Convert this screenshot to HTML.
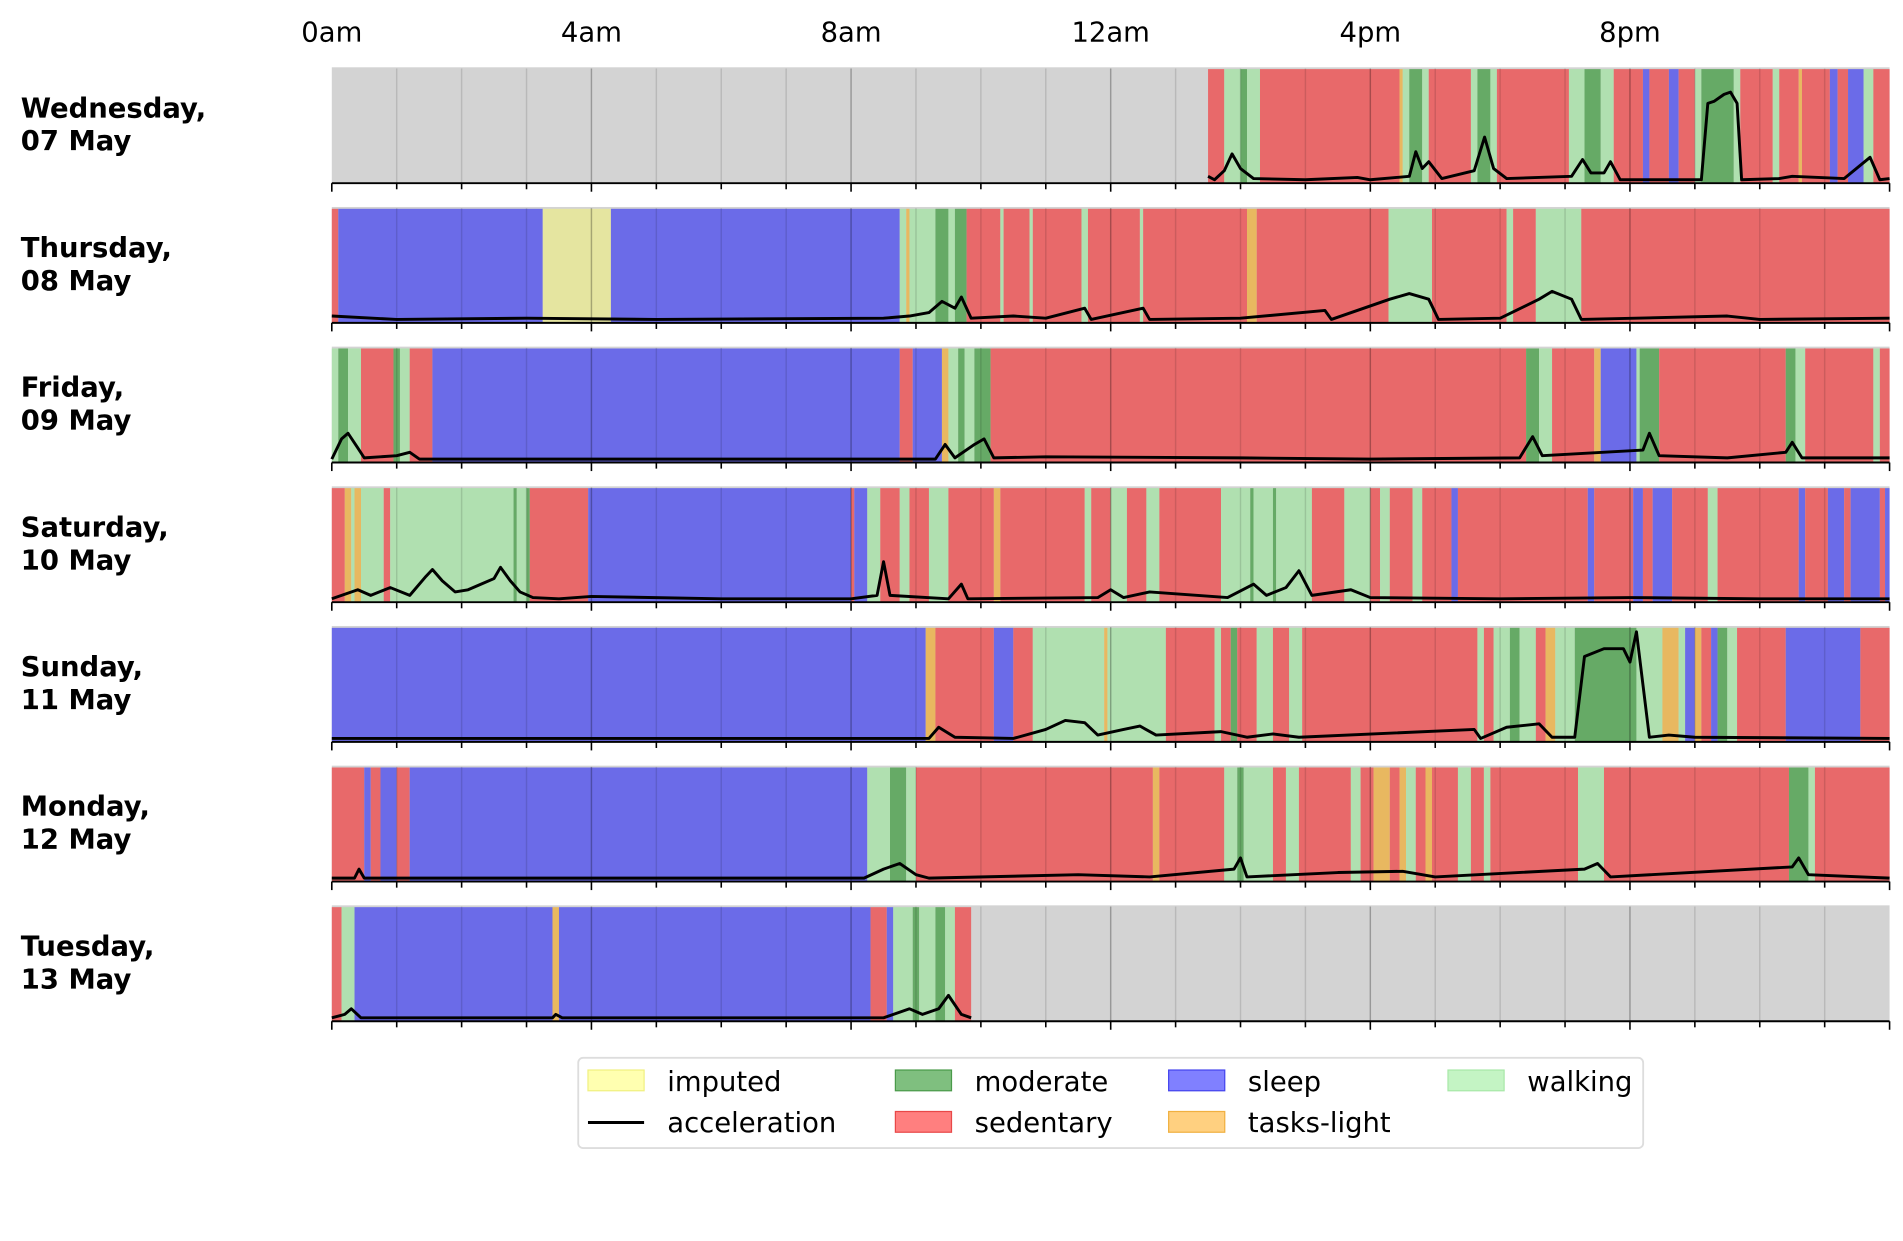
<!DOCTYPE html>
<html><head><meta charset="utf-8"><style>
html,body{margin:0;padding:0;background:#fff;}
svg{display:block;font-family:"DejaVu Sans","Liberation Sans",sans-serif;}
</style></head><body>
<svg id="chart" width="1903" height="1241" viewBox="0 0 1560 1017" xmlns="http://www.w3.org/2000/svg"></svg>
<script>
const dayLabels = [["Wednesday,","07 May"],["Thursday,","08 May"],["Friday,","09 May"],["Saturday,","10 May"],["Sunday,","11 May"],["Monday,","12 May"],["Tuesday,","13 May"]];
const tickLabels = ["0am","4am","8am","12am","4pm","8pm"];
const categories = ["imputed","moderate","sleep","walking","sedentary","tasks-light"];
const segWed = [[13.5,13.75,"S"],[13.75,14.0,"W"],[14.0,14.1,"M"],[14.1,14.3,"W"],[14.3,16.45,"S"],[16.45,16.5,"T"],[16.5,16.6,"W"],[16.6,16.8,"M"],[16.8,16.9,"W"],[16.9,17.55,"S"],[17.55,17.65,"W"],[17.65,17.85,"M"],[17.85,17.95,"W"],[17.95,19.06,"S"],[19.06,19.3,"W"],[19.3,19.55,"M"],[19.55,19.75,"W"],[19.75,20.2,"S"],[20.2,20.3,"Z"],[20.3,20.6,"S"],[20.6,20.75,"Z"],[20.75,21.0,"S"],[21.0,21.1,"W"],[21.1,21.6,"M"],[21.6,21.7,"W"],[21.7,22.2,"S"],[22.2,22.3,"W"],[22.3,22.6,"S"],[22.6,22.65,"T"],[22.65,23.08,"S"],[23.08,23.2,"Z"],[23.2,23.36,"S"],[23.36,23.6,"Z"],[23.6,23.75,"W"],[23.75,24,"S"]];
const segThu = [[0,0.1,"S"],[0.1,3.25,"Z"],[3.25,4.3,"I"],[4.3,8.75,"Z"],[8.75,8.85,"W"],[8.85,8.9,"T"],[8.9,9.3,"W"],[9.3,9.5,"M"],[9.5,9.6,"W"],[9.6,9.78,"M"],[9.78,10.3,"S"],[10.3,10.35,"W"],[10.35,10.75,"S"],[10.75,10.8,"W"],[10.8,11.55,"S"],[11.55,11.65,"W"],[11.65,12.45,"S"],[12.45,12.5,"W"],[12.5,14.1,"S"],[14.1,14.25,"T"],[14.25,16.28,"S"],[16.28,16.95,"W"],[16.95,18.1,"S"],[18.1,18.2,"W"],[18.2,18.55,"S"],[18.55,19.25,"W"],[19.25,24,"S"]];
const segFri = [[0,0.1,"W"],[0.1,0.25,"M"],[0.25,0.45,"W"],[0.45,0.95,"S"],[0.95,1.05,"M"],[1.05,1.2,"W"],[1.2,1.55,"S"],[1.55,8.75,"Z"],[8.75,8.95,"S"],[8.95,9.4,"Z"],[9.4,9.5,"T"],[9.5,9.65,"W"],[9.65,9.75,"M"],[9.75,9.9,"W"],[9.9,10.15,"M"],[10.15,18.4,"S"],[18.4,18.6,"M"],[18.6,18.8,"W"],[18.8,19.45,"S"],[19.45,19.55,"T"],[19.55,20.1,"Z"],[20.1,20.15,"W"],[20.15,20.45,"M"],[20.45,22.4,"S"],[22.4,22.55,"M"],[22.55,22.7,"W"],[22.7,23.75,"S"],[23.75,23.85,"W"],[23.85,24,"S"]];
const segSat = [[0,0.2,"S"],[0.2,0.3,"T"],[0.3,0.35,"W"],[0.35,0.45,"T"],[0.45,0.8,"W"],[0.8,0.9,"S"],[0.9,2.8,"W"],[2.8,2.85,"M"],[2.85,3.0,"W"],[3.0,3.05,"M"],[3.05,3.95,"S"],[3.95,8.0,"Z"],[8.0,8.05,"S"],[8.05,8.25,"Z"],[8.25,8.45,"W"],[8.45,8.75,"S"],[8.75,8.9,"W"],[8.9,9.2,"S"],[9.2,9.5,"W"],[9.5,10.2,"S"],[10.2,10.3,"T"],[10.3,11.6,"S"],[11.6,11.7,"W"],[11.7,12.0,"S"],[12.0,12.25,"W"],[12.25,12.55,"S"],[12.55,12.75,"W"],[12.75,13.7,"S"],[13.7,14.15,"W"],[14.15,14.2,"M"],[14.2,14.5,"W"],[14.5,14.55,"M"],[14.55,15.1,"W"],[15.1,15.6,"S"],[15.6,16.0,"W"],[16.0,16.15,"S"],[16.15,16.3,"W"],[16.3,16.65,"S"],[16.65,16.8,"W"],[16.8,17.25,"S"],[17.25,17.35,"Z"],[17.35,19.35,"S"],[19.35,19.45,"Z"],[19.45,20.05,"S"],[20.05,20.2,"Z"],[20.2,20.35,"S"],[20.35,20.65,"Z"],[20.65,21.2,"S"],[21.2,21.35,"W"],[21.35,22.6,"S"],[22.6,22.7,"Z"],[22.7,23.05,"S"],[23.05,23.3,"Z"],[23.3,23.4,"S"],[23.4,23.85,"Z"],[23.85,23.93,"S"],[23.93,24,"Z"]];
const segSun = [[0,9.15,"Z"],[9.15,9.3,"T"],[9.3,10.2,"S"],[10.2,10.5,"Z"],[10.5,10.8,"S"],[10.8,11.9,"W"],[11.9,11.95,"T"],[11.95,12.85,"W"],[12.85,13.6,"S"],[13.6,13.7,"W"],[13.7,13.85,"S"],[13.85,13.95,"M"],[13.95,14.25,"S"],[14.25,14.5,"W"],[14.5,14.75,"S"],[14.75,14.95,"W"],[14.95,17.65,"S"],[17.65,17.75,"W"],[17.75,17.9,"S"],[17.9,18.15,"W"],[18.15,18.3,"M"],[18.3,18.55,"W"],[18.55,18.7,"S"],[18.7,18.85,"T"],[18.85,19.15,"W"],[19.15,20.1,"M"],[20.1,20.5,"W"],[20.5,20.75,"T"],[20.75,20.85,"W"],[20.85,21.0,"Z"],[21.0,21.1,"T"],[21.1,21.25,"S"],[21.25,21.35,"Z"],[21.35,21.5,"M"],[21.5,21.65,"W"],[21.65,22.4,"S"],[22.4,23.55,"Z"],[23.55,24,"S"]];
const segMon = [[0,0.5,"S"],[0.5,0.6,"Z"],[0.6,0.75,"S"],[0.75,1.0,"Z"],[1.0,1.2,"S"],[1.2,8.25,"Z"],[8.25,8.6,"W"],[8.6,8.85,"M"],[8.85,9.0,"W"],[9.0,12.65,"S"],[12.65,12.75,"T"],[12.75,13.75,"S"],[13.75,13.95,"W"],[13.95,14.05,"M"],[14.05,14.5,"W"],[14.5,14.7,"S"],[14.7,14.9,"W"],[14.9,15.7,"S"],[15.7,15.85,"W"],[15.85,16.05,"S"],[16.05,16.3,"T"],[16.3,16.45,"S"],[16.45,16.55,"T"],[16.55,16.7,"W"],[16.7,16.85,"S"],[16.85,16.95,"T"],[16.95,17.35,"S"],[17.35,17.55,"W"],[17.55,17.75,"S"],[17.75,17.85,"W"],[17.85,19.2,"S"],[19.2,19.6,"W"],[19.6,22.45,"S"],[22.45,22.75,"M"],[22.75,22.85,"W"],[22.85,24,"S"]];
const segTue = [[0,0.15,"S"],[0.15,0.35,"W"],[0.35,3.4,"Z"],[3.4,3.5,"T"],[3.5,8.3,"Z"],[8.3,8.55,"S"],[8.55,8.65,"Z"],[8.65,8.95,"W"],[8.95,9.05,"M"],[9.05,9.3,"W"],[9.3,9.45,"M"],[9.45,9.6,"W"],[9.6,9.85,"S"]];
const accWed = [[13.5,0.05],[13.6,0.02],[13.75,0.1],[13.87,0.25],[14.0,0.12],[14.2,0.03],[15.0,0.02],[15.8,0.04],[16.0,0.02],[16.6,0.05],[16.7,0.27],[16.8,0.12],[16.9,0.18],[17.1,0.03],[17.6,0.1],[17.76,0.4],[17.9,0.12],[18.1,0.03],[19.1,0.05],[19.27,0.2],[19.4,0.08],[19.6,0.08],[19.7,0.18],[19.85,0.02],[21.1,0.02],[21.2,0.7],[21.3,0.72],[21.45,0.78],[21.55,0.8],[21.65,0.7],[21.72,0.02],[22.3,0.03],[22.5,0.05],[23.3,0.03],[23.7,0.22],[23.85,0.02],[24,0.03]];
const accThu = [[0,0.05],[1,0.02],[3,0.03],[5,0.02],[8.5,0.03],[8.9,0.05],[9.2,0.08],[9.4,0.18],[9.6,0.12],[9.7,0.22],[9.85,0.03],[10.5,0.05],[11.0,0.03],[11.6,0.12],[11.7,0.02],[12.5,0.12],[12.6,0.02],[14.0,0.03],[15.3,0.1],[15.4,0.02],[16.3,0.2],[16.6,0.25],[16.9,0.2],[17.05,0.02],[18.0,0.03],[18.6,0.2],[18.8,0.27],[19.1,0.2],[19.25,0.02],[21.5,0.05],[22.0,0.02],[24,0.03]];
const accFri = [[0,0.02],[0.15,0.2],[0.25,0.25],[0.4,0.12],[0.5,0.03],[1.0,0.05],[1.2,0.08],[1.35,0.02],[5,0.02],[9.3,0.02],[9.45,0.15],[9.6,0.03],[9.9,0.15],[10.05,0.2],[10.2,0.03],[11,0.04],[14,0.03],[16,0.02],[18.3,0.03],[18.5,0.22],[18.65,0.05],[20.2,0.1],[20.3,0.25],[20.45,0.05],[21.5,0.03],[22.4,0.08],[22.5,0.17],[22.65,0.03],[24,0.03]];
const accSat = [[0,0.02],[0.4,0.1],[0.6,0.05],[0.9,0.12],[1.2,0.05],[1.45,0.22],[1.55,0.28],[1.7,0.18],[1.9,0.08],[2.1,0.1],[2.3,0.15],[2.5,0.2],[2.6,0.3],[2.75,0.18],[2.9,0.08],[3.1,0.03],[3.5,0.02],[4,0.04],[6,0.02],[8.0,0.02],[8.4,0.05],[8.5,0.35],[8.6,0.05],[9.5,0.02],[9.7,0.15],[9.8,0.02],[11.8,0.03],[12.0,0.1],[12.2,0.03],[12.6,0.08],[13.8,0.03],[14.2,0.15],[14.4,0.05],[14.7,0.12],[14.9,0.27],[15.1,0.05],[15.7,0.1],[16.0,0.03],[18,0.02],[20,0.03],[22,0.02],[24,0.02]];
const accSun = [[0,0.02],[5,0.02],[9.2,0.02],[9.35,0.12],[9.6,0.03],[10.5,0.02],[11.0,0.1],[11.3,0.18],[11.6,0.16],[11.8,0.05],[12.2,0.1],[12.45,0.13],[12.7,0.05],[13.7,0.08],[14.1,0.03],[14.5,0.06],[14.9,0.03],[17.6,0.1],[17.7,0.02],[18.1,0.12],[18.6,0.15],[18.8,0.03],[19.15,0.03],[19.3,0.75],[19.6,0.82],[19.9,0.82],[20.0,0.7],[20.1,0.97],[20.2,0.5],[20.3,0.03],[20.6,0.05],[21.0,0.03],[24,0.02]];
const accMon = [[0,0.02],[0.35,0.02],[0.42,0.1],[0.5,0.02],[3,0.02],[8.2,0.02],[8.5,0.1],[8.75,0.15],[9.0,0.05],[9.2,0.02],[11.5,0.05],[12.6,0.03],[13.9,0.1],[14.0,0.2],[14.1,0.03],[15.5,0.07],[16.5,0.08],[17,0.03],[19.3,0.1],[19.5,0.15],[19.7,0.03],[22.5,0.12],[22.6,0.2],[22.75,0.05],[24,0.02]];
const accTue = [[0,0.02],[0.2,0.05],[0.3,0.1],[0.45,0.02],[3.4,0.02],[3.45,0.05],[3.55,0.02],[8.5,0.02],[8.9,0.1],[9.1,0.05],[9.35,0.1],[9.5,0.22],[9.7,0.05],[9.85,0.02]];
const allSegs = [segWed,segThu,segFri,segSat,segSun,segMon,segTue];
const allAcc = [accWed,accThu,accFri,accSat,accSun,accMon,accTue];

const NS="http://www.w3.org/2000/svg";
const svg=document.getElementById('chart');
const X0=272,X1=1549,PH=95,TOP0=55,STEP=114.5,FS=22.5;
const colors={S:"#e8696a",Z:"#6b6be8",W:"#b0e0b0",M:"#66aa66",T:"#e8b860",I:"#e5e5a0"};
const catNames={S:"sedentary",Z:"sleep",W:"walking",M:"moderate",T:"tasks-light",I:"imputed"};
function xs(h){return X0+(X1-X0)*h/24;}
function mk(tag,attrs,parent){const e=document.createElementNS(NS,tag);for(const k in attrs)e.setAttribute(k,attrs[k]);(parent||svg).appendChild(e);return e;}

tickLabels.forEach((t,i)=>{
  const e=mk('text',{x:xs(i*4),y:34,'text-anchor':'middle','font-size':FS});
  e.textContent=t;
  
  
});

allSegs.forEach((segs,d)=>{
  const top=TOP0+d*STEP, bot=top+PH;
  const g=mk('g',{});
  
  
  const bg=mk('rect',{x:X0,y:top,width:X1-X0,height:PH,fill:"#d3d3d3"},g);
  
  
  segs.forEach(s=>{
    const r=mk('rect',{x:xs(s[0]),y:top+1.5,width:Math.max(0.5,xs(s[1])-xs(s[0])),height:PH-1.5,fill:colors[s[2]]},g);
    
    
  });
  for(let h=1;h<24;h++){
    mk('line',{x1:xs(h),x2:xs(h),y1:top+1,y2:bot,stroke:h%4==0?"rgba(0,0,0,0.28)":"rgba(0,0,0,0.12)","stroke-width":1.2},g);
  }
  const acc=allAcc[d];
  const pts=acc.map(p=>xs(p[0]).toFixed(1)+","+(bot-1-p[1]*(PH-3)).toFixed(1)).join(" ");
  const pl=mk('polyline',{points:pts,fill:"none",stroke:"#000","stroke-width":2.4,"stroke-linejoin":"round"},g);
  
  
  const ax=mk('line',{x1:X0,x2:X1,y1:bot,y2:bot,stroke:"#000","stroke-width":1.6},g);
  
  
  for(let h=0;h<=24;h++){
    mk('line',{x1:xs(h),x2:xs(h),y1:bot,y2:bot+(h%4==0?7:5),stroke:"#000","stroke-width":1.3},g);
  }
  const lab=dayLabels[d];
  [0,1].forEach(k=>{
    const t=mk('text',{x:17,y:top+41+k*27,'font-size':FS,'font-weight':'bold'});
    t.textContent=lab[k];
    
    
  });
});

// legend
const lg=mk('g',{});


mk('rect',{x:474,y:867,width:873,height:74,rx:4,fill:"#fff",stroke:"#ddd","stroke-width":1.5},lg);
const legendItems=[["imputed","patch","#ffffb0","#f0f080",482,886],["acceleration","line","#000","#000",482,920],["moderate","patch","#7fbf7f","#4a9a4a",734,886],["sedentary","patch","#ff7f7f","#e84848",734,920],["sleep","patch","#8080ff","#4444ee",958,886],["tasks-light","patch","#ffd080","#f0b040",958,920],["walking","patch","#c4f4c4","#a8e8a8",1187,886]];
legendItems.forEach(it=>{
  const g=mk('g',{},lg);
  
  
  if(it[1]=="patch") mk('rect',{x:it[4],y:it[5]-9,width:46,height:17,fill:it[2],stroke:it[3],"stroke-width":1},g);
  else mk('line',{x1:it[4],x2:it[4]+46,y1:it[5],y2:it[5],stroke:"#000","stroke-width":2.5},g);
  const t=mk('text',{x:it[4]+65,y:it[5]+8,'font-size':FS},g);
  t.textContent=it[0];
});
</script>
</body></html>
